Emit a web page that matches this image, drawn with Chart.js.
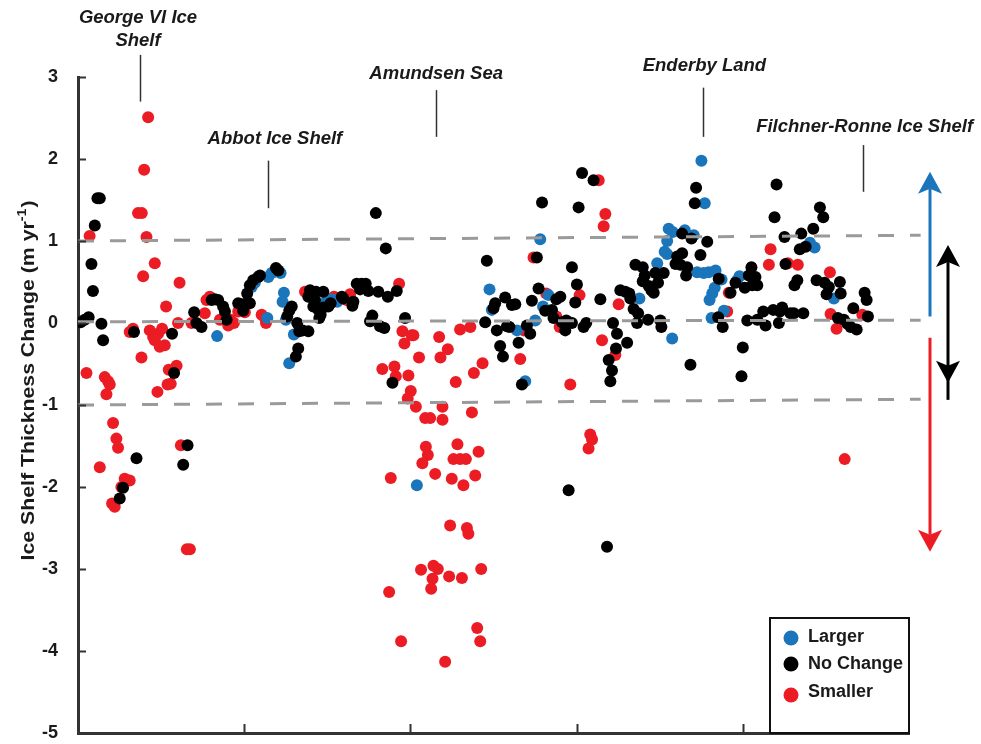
<!DOCTYPE html>
<html>
<head>
<meta charset="utf-8">
<script src="https://cdn.jsdelivr.net/npm/chart.js@4.4.1/dist/chart.umd.min.js"></script>
<style>
  html, body { margin: 0; padding: 0; background: #ffffff; }
  canvas { display: block; }
</style>
</head>
<body>
<canvas id="chart" width="981" height="744"></canvas>
<script>
// Ice shelf thickness change (m/yr) ordered along the coast; x is position index along the coast.

// Shelves that grew larger
const larger = [
  [83.7,-0.16],[104.5,0.44],[106.4,0.49],[114.5,0.56],[116.5,0.61],[121.9,0.61],[113.9,0.06],[123.9,0.37],
  [123.1,0.26],[125.1,0.04],[129.9,-0.14],[127.1,-0.49],[149.2,0.26],[151.6,0.29],[154.6,0.28],[156.0,0.26],
  [203.9,-1.98],[278.1,1.02],[247.6,0.41],[249.0,0.16],[283.1,0.34],[279.8,0.20],[275.1,0.03],[264.1,-0.09],
  [269.1,-0.71],[375.1,1.98],[377.1,1.46],[355.4,1.15],[357.8,1.11],[365.1,1.13],[370.5,1.07],[354.5,1.00],
  [353.0,0.87],[354.5,0.84],[348.5,0.73],[372.5,0.62],[376.5,0.61],[379.5,0.62],[383.6,0.64],[387.2,0.53],
  [383.1,0.43],[381.6,0.36],[380.0,0.28],[337.8,0.30],[381.2,0.06],[388.6,0.15],[357.5,-0.19],[398.0,0.57],
  [396.6,0.52],[440.4,0.98],[443.2,0.92],[454.8,0.30]
];

// Shelves with no change in extent
const noChange = [
  [11.7,1.52],[13.1,1.52],[10.1,1.19],[8.1,0.72],[9.0,0.39],[80.4,0.28],[69.9,0.13],[1.6,0.01],[4.0,0.04],
  [6.4,0.07],[14.1,-0.01],[71.3,0.00],[74.3,-0.05],[15.1,-0.21],[33.7,-0.11],[56.6,-0.13],[57.8,-0.61],
  [35.2,-1.65],[65.9,-1.49],[63.3,-1.73],[27.1,-2.01],[25.1,-2.14],
  [82.3,0.29],[84.3,0.28],[87.3,0.20],[88.4,0.14],[89.4,0.04],[96.4,0.24],[98.4,0.23],[101.4,0.24],[103.4,0.24],
  [99.4,0.15],[101.8,0.36],[103.4,0.46],[105.4,0.52],[108.4,0.56],[109.5,0.58],[119.1,0.67],[120.5,0.64],
  [128.6,0.20],[127.1,0.15],[125.9,0.08],[131.9,0.00],[133.1,-0.10],[135.2,-0.09],[138.6,-0.10],[132.5,-0.31],
  [131.1,-0.41],[139.6,0.40],[143.2,0.38],[147.6,0.38],[138.6,0.32],[142.6,0.28],[141.6,0.20],[144.6,0.16],
  [146.0,0.10],[145.2,0.06],[147.6,0.19],[150.6,0.20],[152.0,0.24],[158.7,0.32],[159.6,0.30],
  [179.2,1.34],[185.2,0.91],[167.7,0.48],[170.7,0.48],[173.1,0.48],[169.7,0.41],[174.7,0.39],[180.7,0.38],
  [186.4,0.32],[191.8,0.39],[165.7,0.26],[165.1,0.21],[177.1,0.09],[175.7,0.02],[181.7,-0.04],[184.3,-0.06],
  [196.8,0.06],[189.2,-0.73],
  [303.3,1.83],[310.2,1.74],[279.2,1.47],[301.2,1.41],[246.0,0.76],[276.1,0.80],[297.2,0.68],[300.2,0.47],
  [257.0,0.31],[251.0,0.24],[250.0,0.18],[261.1,0.22],[263.1,0.23],[277.1,0.42],[273.1,0.27],[287.8,0.29],
  [290.2,0.32],[299.2,0.25],[314.3,0.29],[281.1,0.15],[285.2,0.16],[286.1,0.06],[245.0,0.01],[258.1,-0.04],
  [259.6,-0.05],[270.1,-0.03],[272.1,-0.13],[291.2,0.01],[293.8,0.03],[297.2,0.00],[293.2,-0.09],[304.2,-0.05],
  [305.8,0.00],[321.9,0.00],[324.3,-0.13],[252.0,-0.09],[254.0,-0.28],[255.7,-0.41],[265.1,-0.24],[323.7,-0.31],
  [319.3,-0.45],[321.3,-0.58],[320.3,-0.71],[267.1,-0.75],[295.2,-2.04],[318.3,-2.73],[326.3,0.40],
  [371.9,1.65],[371.1,1.46],[363.5,1.09],[369.1,1.03],[378.6,0.99],[374.5,0.83],[363.5,0.85],[360.5,0.81],
  [359.5,0.72],[362.5,0.71],[366.5,0.68],[365.9,0.58],[335.4,0.71],[339.8,0.68],[341.0,0.58],[339.8,0.51],
  [347.4,0.61],[349.0,0.49],[352.4,0.61],[343.4,0.45],[345.0,0.40],[346.4,0.37],[385.5,0.54],[329.3,0.38],
  [331.7,0.36],[332.3,0.30],[334.3,0.17],[337.0,0.12],[336.4,0.00],[343.0,0.04],[350.4,0.03],[351.0,-0.05],
  [385.2,0.07],[387.9,-0.05],[330.4,-0.24],[368.5,-0.51],[402.7,0.03],[400.0,-0.30],[399.2,-0.65],[405.2,0.68],
  [403.6,0.58],[401.2,0.43],[392.6,0.37],[395.6,0.49],
  [420.3,1.69],[419.1,1.29],[446.4,1.41],[448.4,1.29],[442.4,1.15],[435.2,1.09],[425.1,1.05],[434.3,0.90],
  [437.8,0.93],[425.7,0.72],[407.6,0.56],[408.7,0.46],[405.7,0.46],[432.8,0.52],[431.1,0.46],[444.4,0.52],
  [449.2,0.49],[451.8,0.44],[458.4,0.50],[450.4,0.35],[458.9,0.36],[473.3,0.37],[474.5,0.28],[412.3,0.14],
  [418.3,0.16],[423.7,0.19],[422.3,0.14],[428.7,0.12],[430.7,0.12],[436.4,0.12],[408.7,0.04],[413.7,-0.03],
  [421.7,0.00],[457.2,0.06],[460.8,0.04],[462.9,-0.01],[464.9,-0.05],[468.5,-0.08],[466.5,0.18],[475.3,0.08]
];

// Shelves that became smaller
const smaller = [
  [42.2,2.51],[39.8,1.87],[36.1,1.34],[38.4,1.34],[7.0,1.06],[41.2,1.05],[46.2,0.73],[39.2,0.57],[61.1,0.49],
  [53.0,0.20],[77.3,0.28],[76.3,0.12],[68.3,0.00],[33.1,-0.07],[31.1,-0.11],[43.2,-0.09],[45.2,-0.17],
  [48.2,-0.13],[50.6,-0.07],[49.2,-0.29],[52.2,-0.27],[46.2,-0.21],[60.2,0.00],[38.2,-0.42],[5.1,-0.61],
  [16.1,-0.66],[18.1,-0.71],[19.1,-0.75],[17.1,-0.87],[59.3,-0.52],[54.6,-0.57],[55.8,-0.74],[53.9,-0.75],
  [47.8,-0.84],[21.1,-1.22],[23.1,-1.41],[24.1,-1.52],[13.1,-1.76],[61.9,-1.49],[28.1,-1.90],[31.1,-1.92],
  [26.1,-2.00],[20.5,-2.20],[22.1,-2.24],[67.3,-2.76],[65.5,-2.76],
  [79.3,0.32],[85.4,0.04],[91.8,0.04],[93.8,0.00],[90.4,-0.03],[96.4,0.14],[100.4,0.13],[110.5,0.10],
  [112.5,0.06],[113.1,0.00],[127.5,0.17],[136.6,0.38],[154.0,0.32],[162.0,0.29],
  [193.2,0.48],[163.7,0.35],[161.7,0.28],[195.2,-0.10],[196.4,-0.25],[201.8,-0.15],[200.8,-0.15],[205.2,-0.42],
  [217.3,-0.17],[222.5,-0.32],[218.1,-0.42],[229.9,-0.08],[236.1,-0.05],[183.1,-0.56],[190.4,-0.53],
  [191.2,-0.65],[198.8,-0.64],[200.2,-0.83],[198.4,-0.92],[203.3,-1.02],[208.9,-1.16],[211.9,-1.16],
  [219.3,-1.02],[219.3,-1.18],[227.3,-0.72],[238.2,-0.61],[243.4,-0.49],[237.0,-1.09],[209.3,-1.51],
  [210.5,-1.61],[207.2,-1.71],[228.3,-1.48],[225.9,-1.66],[229.9,-1.66],[233.4,-1.66],[241.0,-1.57],
  [188.2,-1.89],[214.9,-1.84],[224.9,-1.90],[231.9,-1.98],[239.0,-1.86],[223.9,-2.47],[234.0,-2.50],
  [234.9,-2.57],[206.4,-3.01],[213.9,-2.96],[216.5,-3.00],[213.3,-3.12],[212.5,-3.24],[223.3,-3.09],
  [231.0,-3.11],[242.6,-3.00],[187.2,-3.28],[194.4,-3.88],[240.2,-3.72],[242.0,-3.88],[220.9,-4.13],
  [313.3,1.74],[317.3,1.33],[316.3,1.18],[274.1,0.80],[281.7,0.36],[301.8,0.34],[287.8,0.08],[268.1,-0.09],
  [289.8,-0.05],[315.3,-0.21],[266.1,-0.44],[323.3,-0.39],[296.2,-0.75],[308.2,-1.36],[309.3,-1.42],
  [307.2,-1.53],[325.3,0.23],[390.6,0.14],[391.6,0.37],[416.7,0.90],[415.7,0.71],[427.1,0.73],[433.1,0.71],
  [452.4,0.62],[452.8,0.11],[456.4,-0.07],[471.9,0.10],[461.3,-1.66]
];

// Reference levels (+1, 0, -1 m/yr) drifting slightly along the coast
const levelUpper = [[0, 1.00], [507, 1.07]];
const levelZero  = [[0, 0.015], [507, 0.035]];
const levelLower = [[0, -1.00], [507, -0.93]];

const yTickValues = [-5, -4, -3, -2, -1, 0, 1, 2, 3];
const xTickValues = [100, 200, 300, 400];

const categoryNames = ['Larger', 'No Change', 'Smaller'];
const yAxisTitle = 'Ice Shelf Thickness Change (m yr';
const yAxisTitleSup = '-1';

// Region callouts: text lines, anchor position along the coast, text heights and leader line ends (m/yr scale)
const regions = [
  { lines: ['George VI Ice', 'Shelf'], textX: 36.1, textY: [3.72, 3.44], lineX: 37.2, lineTop: 3.27, lineBottom: 2.70 },
  { lines: ['Abbot Ice Shelf'], textX: 118.5, textY: [2.24], lineX: 114.3, lineTop: 1.98, lineBottom: 1.40 },
  { lines: ['Amundsen Sea'], textX: 215.5, textY: [3.04], lineX: 215.5, lineTop: 2.84, lineBottom: 2.27 },
  { lines: ['Enderby Land'], textX: 376.9, textY: [3.13], lineX: 376.3, lineTop: 2.87, lineBottom: 2.27 },
  { lines: ['Filchner-Ronne Ice Shelf'], textX: 473.3, textY: [2.39], lineX: 472.1, lineTop: 2.17, lineBottom: 1.60 }
];

const COLORS = { larger: '#1b75bb', none: '#000000', smaller: '#ec1c24', level: '#9a9a9a', axis: '#333333', text: '#1a1a1a' };
const FONT_FAMILY = '"Liberation Sans", Arial, Helvetica, sans-serif';

const toPoints = arr => arr.map(([x, y]) => ({ x, y }));

function drawArrow(ctx, x, yFrom, yTo, color, bothEnds) {
  const headLen = 22, half = 12, notch = 5;
  const dir = yTo < yFrom ? -1 : 1;
  ctx.save();
  ctx.strokeStyle = color;
  ctx.fillStyle = color;
  ctx.lineWidth = 3;
  ctx.beginPath();
  ctx.moveTo(x, bothEnds ? yFrom - dir * (headLen - notch) : yFrom);
  ctx.lineTo(x, yTo - dir * (headLen - notch));
  ctx.stroke();
  const head = (tipY, d) => {
    ctx.beginPath();
    ctx.moveTo(x, tipY);
    ctx.lineTo(x - half, tipY - d * headLen);
    ctx.lineTo(x, tipY - d * (headLen - notch));
    ctx.lineTo(x + half, tipY - d * headLen);
    ctx.closePath();
    ctx.fill();
  };
  head(yTo, dir);
  if (bothEnds) head(yFrom, -dir);
  ctx.restore();
}

const decorations = {
  id: 'decorations',
  afterDraw(chart) {
    const { ctx, chartArea: area, scales: { x: xs, y: ys } } = chart;
    ctx.save();

    // inward tick marks
    ctx.strokeStyle = COLORS.axis;
    ctx.lineWidth = 2;
    ctx.beginPath();
    yTickValues.forEach(v => {
      const py = Math.round(ys.getPixelForValue(v)) + 0.5;
      ctx.moveTo(area.left, py);
      ctx.lineTo(area.left + 8, py);
    });
    xTickValues.forEach(v => {
      const px = Math.round(xs.getPixelForValue(v)) + 0.5;
      ctx.moveTo(px, area.bottom);
      ctx.lineTo(px, area.bottom - 9);
    });
    ctx.stroke();

    // region callouts
    ctx.fillStyle = COLORS.text;
    ctx.font = `italic bold 18.5px ${FONT_FAMILY}`;
    ctx.textAlign = 'center';
    ctx.textBaseline = 'middle';
    ctx.strokeStyle = '#333333';
    ctx.lineWidth = 1.5;
    regions.forEach(r => {
      r.lines.forEach((t, i) => ctx.fillText(t, xs.getPixelForValue(r.textX), ys.getPixelForValue(r.textY[i])));
      const lx = Math.round(xs.getPixelForValue(r.lineX)) + 0.5;
      ctx.beginPath();
      ctx.moveTo(lx, ys.getPixelForValue(r.lineTop));
      ctx.lineTo(lx, ys.getPixelForValue(r.lineBottom));
      ctx.stroke();
    });

    // y-axis title with superscript, stretched along its length
    ctx.save();
    const titleX = 29;
    const titleY = ys.getPixelForValue(-0.7);
    const titleLength = 360;
    const mainFont = `bold 18px ${FONT_FAMILY}`;
    const supFont = `bold 12px ${FONT_FAMILY}`;
    ctx.font = mainFont;
    const w1 = ctx.measureText(yAxisTitle).width;
    const w3 = ctx.measureText(')').width;
    ctx.font = supFont;
    const w2 = ctx.measureText(yAxisTitleSup).width;
    const total = w1 + w2 + w3 + 1;
    ctx.translate(titleX, titleY);
    ctx.rotate(-Math.PI / 2);
    ctx.scale(titleLength / total, 1);
    let cx = -total / 2;
    ctx.textAlign = 'left';
    ctx.textBaseline = 'middle';
    ctx.fillStyle = COLORS.text;
    ctx.font = mainFont;
    ctx.fillText(yAxisTitle, cx, 0);
    cx += w1;
    ctx.font = supFont;
    ctx.fillText(yAxisTitleSup, cx, -6);
    cx += w2 + 1;
    ctx.font = mainFont;
    ctx.fillText(')', cx, 0);
    ctx.restore();

    // direction arrows beside the plot
    const ax1 = area.right + 21, ax2 = area.right + 39;
    drawArrow(ctx, ax1, ys.getPixelForValue(0.08), ys.getPixelForValue(1.845), COLORS.larger, false);
    drawArrow(ctx, ax1, ys.getPixelForValue(-0.18), ys.getPixelForValue(-2.79), COLORS.smaller, false);
    drawArrow(ctx, ax2, ys.getPixelForValue(-0.73), ys.getPixelForValue(0.95), COLORS.none, true);

    // legend box
    const bx = area.right - 139, by = area.bottom - 115;
    ctx.strokeStyle = '#111111';
    ctx.lineWidth = 2;
    ctx.strokeRect(bx, by, 139, 115);
    const items = [
      { c: COLORS.larger, dotY: 20, textY: 19 },
      { c: COLORS.none, dotY: 46, textY: 46 },
      { c: COLORS.smaller, dotY: 77, textY: 74 }
    ];
    ctx.font = `bold 18px ${FONT_FAMILY}`;
    ctx.textAlign = 'left';
    ctx.textBaseline = 'middle';
    items.forEach((it, i) => {
      ctx.fillStyle = it.c;
      ctx.beginPath();
      ctx.arc(bx + 21, by + it.dotY, 7.5, 0, Math.PI * 2);
      ctx.fill();
      ctx.fillStyle = COLORS.text;
      ctx.fillText(categoryNames[i], bx + 38, by + it.textY);
    });

    ctx.restore();
  }
};

const scatterSet = (label, data, color, order) => ({
  type: 'scatter', label, data: toPoints(data), order,
  backgroundColor: color, borderWidth: 0, pointRadius: 6, pointHoverRadius: 6
});
const levelSet = (data) => ({
  type: 'line', data: toPoints(data), order: -1, clip: false,
  borderColor: COLORS.level, borderWidth: 3, borderDash: [16, 16], pointRadius: 0, fill: false, tension: 0
});

new Chart(document.getElementById('chart'), {
  type: 'scatter',
  data: {
    datasets: [
      scatterSet(categoryNames[1], noChange, COLORS.none, 0),
      scatterSet(categoryNames[0], larger, COLORS.larger, 1),
      scatterSet(categoryNames[2], smaller, COLORS.smaller, 2),
      levelSet(levelUpper),
      levelSet(levelZero),
      levelSet(levelLower)
    ]
  },
  options: {
    responsive: false,
    devicePixelRatio: 1,
    animation: false,
    events: [],
    layout: { padding: { left: 0, right: 72, top: 77, bottom: 0 } },
    plugins: { legend: { display: false }, tooltip: { enabled: false } },
    scales: {
      x: {
        type: 'linear', min: 0, max: 500,
        afterFit: s => { s.height = 11; },
        grid: { display: false },
        border: { display: true, color: COLORS.axis, width: 3 },
        ticks: { display: false, stepSize: 100 }
      },
      y: {
        type: 'linear', min: -5, max: 3,
        afterFit: s => { s.width = 78; },
        grid: { display: false, tickLength: 20 },
        border: { display: true, color: COLORS.axis, width: 3 },
        ticks: {
          stepSize: 1, padding: 0,
          color: COLORS.text,
          font: { family: FONT_FAMILY, size: 18, weight: 'bold' }
        }
      }
    }
  },
  plugins: [decorations]
});
</script>
</body>
</html>
